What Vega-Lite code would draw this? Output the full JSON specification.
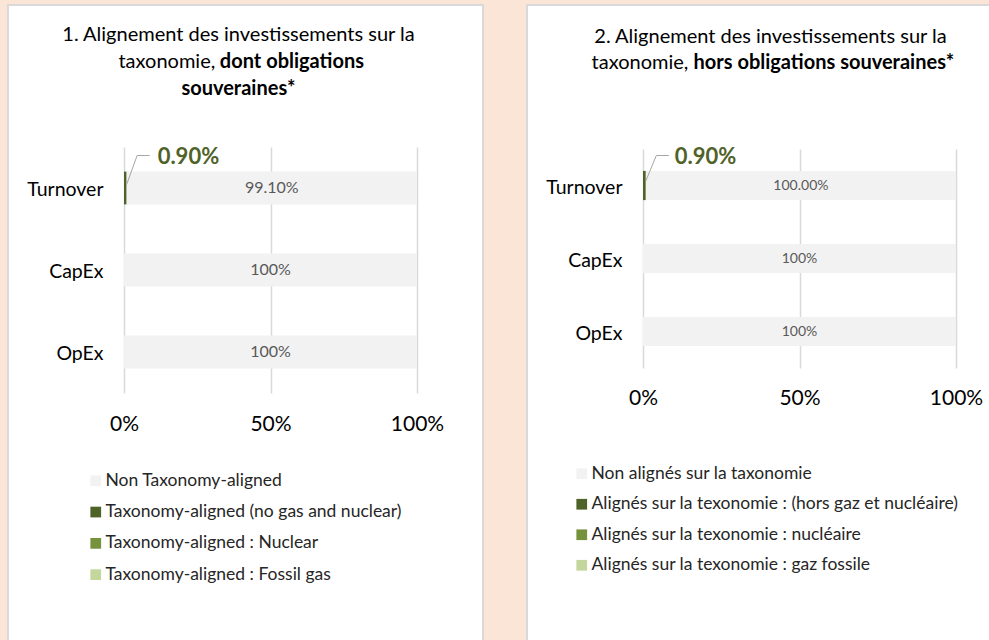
{
  "$schema": "https://vega.github.io/schema/vega-lite/v6.json",
  "background": "#FBE5D6",
  "padding": {"left": 7, "top": 4, "right": 0, "bottom": 0},
  "autosize": {"type": "pad"},
  "spacing": 42,
  "resolve": {"scale": {"color": "independent"}, "legend": {"color": "independent"}},
  "config": {
    "font": "Lato",
    "title": {"font": "Lato", "fontSize": 20, "fontWeight": "normal", "color": "#000000", "subtitleFont": "Lato", "subtitleFontSize": 20, "subtitleFontWeight": "bold", "subtitleColor": "#000000", "anchor": "middle", "frame": "group"}
  },
  "hconcat": [
    {
      "width": 475,
      "height": 640,
      "view": {"fill": "#FFFFFF", "stroke": "#D9D9D9", "strokeWidth": 2},
      "title": {
        "text": ["1. Alignement des investissements sur la", "taxonomie,\u00a0\u00a0\u00a0\u00a0\u00a0\u00a0\u00a0\u00a0\u00a0\u00a0\u00a0\u00a0\u00a0\u00a0\u00a0\u00a0\u00a0\u00a0\u00a0\u00a0\u00a0\u00a0\u00a0\u00a0\u00a0\u00a0\u00a0\u00a0\u200b"],
        "subtitle": ["\u200b\u00a0\u00a0\u00a0\u00a0\u00a0\u00a0\u00a0\u00a0\u00a0\u00a0\u00a0\u00a0\u00a0\u00a0\u00a0\u00a0\u00a0\u00a0\u00a0\u00a0\u00a0\u00a0dont obligations", "souveraines*"],
        "lineHeight": 27,
        "subtitleLineHeight": 27,
        "subtitlePadding": -20,
        "offset": -94,
        "dx": -7
      },
      "data": {"values": [
        {"cat": "Turnover", "type": "Taxonomy-aligned (no gas and nuclear)", "v": 0.009, "o": 1, "nl": "", "cl": "0.90%"},
        {"cat": "Turnover", "type": "Non Taxonomy-aligned", "v": 0.991, "o": 2, "nl": "99.10%", "cl": ""},
        {"cat": "CapEx", "type": "Non Taxonomy-aligned", "v": 1.0, "o": 2, "nl": "100%", "cl": ""},
        {"cat": "OpEx", "type": "Non Taxonomy-aligned", "v": 1.0, "o": 2, "nl": "100%", "cl": ""}
      ]},
      "encoding": {
        "y": {"field": "cat", "type": "nominal", "sort": ["Turnover", "CapEx", "OpEx"],
          "scale": {"range": [142, 388], "paddingInner": 0.6, "paddingOuter": 0.3},
          "axis": {"orient": "left", "offset": -95, "labelPadding": 0, "ticks": false, "domain": false, "grid": false, "title": null, "labelFont": "Lato", "labelFontSize": 19.5, "labelColor": "#000000", "labelAlign": "right", "labelBaseline": "middle", "labelOffset": 2}}
      },
      "layer": [
        {
          "mark": {"type": "bar"},
          "encoding": {
            "x": {"field": "v", "type": "quantitative", "stack": "zero",
              "scale": {"domain": [0, 1], "range": [116, 409], "nice": false, "zero": true},
              "axis": {"orient": "top", "offset": -419, "values": [0, 0.5, 1], "format": ".0%", "grid": true, "gridColor": "#D9D9D9", "gridWidth": 1.5, "ticks": false, "tickSize": 0, "domain": false, "labelPadding": 0, "labelBaseline": "middle", "labelFont": "Lato", "labelFontSize": 21, "labelColor": "#000000", "labelFlush": false, "title": null, "zindex": 0}},
            "order": {"field": "o", "type": "quantitative"},
            "color": {"field": "type", "type": "nominal",
              "scale": {"domain": ["Non Taxonomy-aligned", "Taxonomy-aligned (no gas and nuclear)", "Taxonomy-aligned : Nuclear", "Taxonomy-aligned : Fossil gas"], "range": ["#F2F2F2", "#4F6228", "#76923C", "#C3D69B"]},
              "legend": {"orient": "none", "legendX": 79, "legendY": 467, "title": null, "direction": "vertical", "symbolType": "square", "symbolSize": 115, "symbolStrokeWidth": 0, "labelFont": "Lato", "labelFontSize": 17.5, "labelColor": "#262626", "labelOffset": 1, "rowPadding": 12.3, "padding": 0, "labelLimit": 0}}
          }
        },
        {
          "transform": [{"filter": "datum.cl != ''"}],
          "mark": {"type": "rule", "color": "#A6A6A6", "strokeWidth": 1, "xOffset": 0, "yOffset": -3.5, "x2Offset": 10.5, "y2Offset": -32.5},
          "encoding": {
            "x": {"field": "v", "type": "quantitative", "stack": null, "scale": {"domain": [0, 1], "range": [116, 409], "nice": false, "zero": true},
              "axis": {"orient": "top", "offset": -419, "values": [0, 0.5, 1], "format": ".0%", "grid": true, "gridColor": "#D9D9D9", "gridWidth": 1.5, "ticks": false, "tickSize": 0, "domain": false, "labelPadding": 0, "labelBaseline": "middle", "labelFont": "Lato", "labelFontSize": 21, "labelColor": "#000000", "labelFlush": false, "title": null, "zindex": 0}},
            "x2": {"field": "v"},
            "y2": {"field": "cat"}
          }
        },
        {
          "transform": [{"filter": "datum.cl != ''"}],
          "mark": {"type": "rule", "color": "#A6A6A6", "strokeWidth": 1, "xOffset": 10.5, "yOffset": -32.5, "x2Offset": 23, "y2Offset": -32.5},
          "encoding": {
            "x": {"field": "v", "type": "quantitative", "stack": null, "scale": {"domain": [0, 1], "range": [116, 409], "nice": false, "zero": true},
              "axis": {"orient": "top", "offset": -419, "values": [0, 0.5, 1], "format": ".0%", "grid": true, "gridColor": "#D9D9D9", "gridWidth": 1.5, "ticks": false, "tickSize": 0, "domain": false, "labelPadding": 0, "labelBaseline": "middle", "labelFont": "Lato", "labelFontSize": 21, "labelColor": "#000000", "labelFlush": false, "title": null, "zindex": 0}},
            "x2": {"field": "v"},
            "y2": {"field": "cat"}
          }
        },
        {
          "transform": [{"filter": "datum.cl != ''"}],
          "mark": {"type": "text", "align": "left", "baseline": "middle", "dx": 31, "dy": -31.5, "font": "Lato", "fontSize": 22, "fontWeight": "bold", "color": "#4F6228"},
          "encoding": {
            "x": {"field": "v", "type": "quantitative", "stack": null, "scale": {"domain": [0, 1], "range": [116, 409], "nice": false, "zero": true},
              "axis": {"orient": "top", "offset": -419, "values": [0, 0.5, 1], "format": ".0%", "grid": true, "gridColor": "#D9D9D9", "gridWidth": 1.5, "ticks": false, "tickSize": 0, "domain": false, "labelPadding": 0, "labelBaseline": "middle", "labelFont": "Lato", "labelFontSize": 21, "labelColor": "#000000", "labelFlush": false, "title": null, "zindex": 0}},
            "text": {"field": "cl"}
          }
        },
        {
          "mark": {"type": "text", "align": "center", "baseline": "middle", "font": "Lato", "fontSize": 16, "color": "#595959"},
          "encoding": {
            "x": {"field": "v", "type": "quantitative", "stack": "zero", "bandPosition": 0.5, "scale": {"domain": [0, 1], "range": [116, 409], "nice": false, "zero": true},
              "axis": {"orient": "top", "offset": -419, "values": [0, 0.5, 1], "format": ".0%", "grid": true, "gridColor": "#D9D9D9", "gridWidth": 1.5, "ticks": false, "tickSize": 0, "domain": false, "labelPadding": 0, "labelBaseline": "middle", "labelFont": "Lato", "labelFontSize": 21, "labelColor": "#000000", "labelFlush": false, "title": null, "zindex": 0}},
            "order": {"field": "o", "type": "quantitative"},
            "detail": {"field": "type"},
            "text": {"field": "nl"}
          }
        }
      ]
    },
    {
      "width": 470,
      "height": 640,
      "view": {"fill": "#FFFFFF", "stroke": "#D9D9D9", "strokeWidth": 2},
      "title": {
        "text": ["2. Alignement des investissements sur la", "taxonomie,\u00a0\u00a0\u00a0\u00a0\u00a0\u00a0\u00a0\u00a0\u00a0\u00a0\u00a0\u00a0\u00a0\u00a0\u00a0\u00a0\u00a0\u00a0\u00a0\u00a0\u00a0\u00a0\u00a0\u00a0\u00a0\u00a0\u00a0\u00a0\u00a0\u00a0\u00a0\u00a0\u00a0\u00a0\u00a0\u00a0\u00a0\u00a0\u00a0\u00a0\u00a0\u00a0\u00a0\u00a0\u00a0\u00a0\u00a0\u00a0\u00a0\u00a0\u00a0\u200b"],
        "subtitle": ["\u200b\u00a0\u00a0\u00a0\u00a0\u00a0\u00a0\u00a0\u00a0\u00a0\u00a0\u00a0\u00a0\u00a0\u00a0\u00a0\u00a0\u00a0\u00a0\u00a0\u00a0\u00a0\u00a0hors obligations souveraines*"],
        "lineHeight": 26,
        "subtitleLineHeight": 26,
        "subtitlePadding": -20,
        "offset": -68,
        "dx": 8.5
      },
      "data": {"values": [
        {"cat": "Turnover", "type": "Alignés sur la texonomie : (hors gaz et nucléaire)", "v": 0.009, "o": 1, "nl": "", "cl": "0.90%"},
        {"cat": "Turnover", "type": "Non alignés sur la taxonomie", "v": 0.991, "o": 2, "nl": "100.00%", "cl": ""},
        {"cat": "CapEx", "type": "Non alignés sur la taxonomie", "v": 1.0, "o": 2, "nl": "100%", "cl": ""},
        {"cat": "OpEx", "type": "Non alignés sur la taxonomie", "v": 1.0, "o": 2, "nl": "100%", "cl": ""}
      ]},
      "encoding": {
        "y": {"field": "cat", "type": "nominal", "sort": ["Turnover", "CapEx", "OpEx"],
          "scale": {"range": [144, 363], "paddingInner": 0.6, "paddingOuter": 0.3},
          "axis": {"orient": "left", "offset": -95, "labelPadding": 0, "ticks": false, "domain": false, "grid": false, "title": null, "labelFont": "Lato", "labelFontSize": 19.5, "labelColor": "#000000", "labelAlign": "right", "labelBaseline": "middle", "labelOffset": 2}}
      },
      "layer": [
        {
          "mark": {"type": "bar"},
          "encoding": {
            "x": {"field": "v", "type": "quantitative", "stack": "zero",
              "scale": {"domain": [0, 1], "range": [116, 429], "nice": false, "zero": true},
              "axis": {"orient": "top", "offset": -393, "values": [0, 0.5, 1], "format": ".0%", "grid": true, "gridColor": "#D9D9D9", "gridWidth": 1.5, "ticks": false, "tickSize": 0, "domain": false, "labelPadding": 0, "labelBaseline": "middle", "labelFont": "Lato", "labelFontSize": 21, "labelColor": "#000000", "labelFlush": false, "title": null, "zindex": 0}},
            "order": {"field": "o", "type": "quantitative"},
            "color": {"field": "type", "type": "nominal",
              "scale": {"domain": ["Non alignés sur la taxonomie", "Alignés sur la texonomie : (hors gaz et nucléaire)", "Alignés sur la texonomie : nucléaire", "Alignés sur la texonomie : gaz fossile"], "range": ["#F2F2F2", "#4F6228", "#76923C", "#C3D69B"]},
              "legend": {"orient": "none", "legendX": 46, "legendY": 460, "title": null, "direction": "vertical", "symbolType": "square", "symbolSize": 115, "symbolStrokeWidth": 0, "labelFont": "Lato", "labelFontSize": 17.5, "labelColor": "#262626", "labelOffset": 1, "rowPadding": 11.5, "padding": 0, "labelLimit": 0}}
          }
        },
        {
          "transform": [{"filter": "datum.cl != ''"}],
          "mark": {"type": "rule", "color": "#A6A6A6", "strokeWidth": 1, "xOffset": 0, "yOffset": -4.5, "x2Offset": 10.5, "y2Offset": -30},
          "encoding": {
            "x": {"field": "v", "type": "quantitative", "stack": null, "scale": {"domain": [0, 1], "range": [116, 429], "nice": false, "zero": true},
              "axis": {"orient": "top", "offset": -393, "values": [0, 0.5, 1], "format": ".0%", "grid": true, "gridColor": "#D9D9D9", "gridWidth": 1.5, "ticks": false, "tickSize": 0, "domain": false, "labelPadding": 0, "labelBaseline": "middle", "labelFont": "Lato", "labelFontSize": 21, "labelColor": "#000000", "labelFlush": false, "title": null, "zindex": 0}},
            "x2": {"field": "v"},
            "y2": {"field": "cat"}
          }
        },
        {
          "transform": [{"filter": "datum.cl != ''"}],
          "mark": {"type": "rule", "color": "#A6A6A6", "strokeWidth": 1, "xOffset": 10.5, "yOffset": -30, "x2Offset": 23, "y2Offset": -30},
          "encoding": {
            "x": {"field": "v", "type": "quantitative", "stack": null, "scale": {"domain": [0, 1], "range": [116, 429], "nice": false, "zero": true},
              "axis": {"orient": "top", "offset": -393, "values": [0, 0.5, 1], "format": ".0%", "grid": true, "gridColor": "#D9D9D9", "gridWidth": 1.5, "ticks": false, "tickSize": 0, "domain": false, "labelPadding": 0, "labelBaseline": "middle", "labelFont": "Lato", "labelFontSize": 21, "labelColor": "#000000", "labelFlush": false, "title": null, "zindex": 0}},
            "x2": {"field": "v"},
            "y2": {"field": "cat"}
          }
        },
        {
          "transform": [{"filter": "datum.cl != ''"}],
          "mark": {"type": "text", "align": "left", "baseline": "middle", "dx": 29, "dy": -29, "font": "Lato", "fontSize": 22, "fontWeight": "bold", "color": "#4F6228"},
          "encoding": {
            "x": {"field": "v", "type": "quantitative", "stack": null, "scale": {"domain": [0, 1], "range": [116, 429], "nice": false, "zero": true},
              "axis": {"orient": "top", "offset": -393, "values": [0, 0.5, 1], "format": ".0%", "grid": true, "gridColor": "#D9D9D9", "gridWidth": 1.5, "ticks": false, "tickSize": 0, "domain": false, "labelPadding": 0, "labelBaseline": "middle", "labelFont": "Lato", "labelFontSize": 21, "labelColor": "#000000", "labelFlush": false, "title": null, "zindex": 0}},
            "text": {"field": "cl"}
          }
        },
        {
          "mark": {"type": "text", "align": "center", "baseline": "middle", "font": "Lato", "fontSize": 14, "color": "#595959"},
          "encoding": {
            "x": {"field": "v", "type": "quantitative", "stack": "zero", "bandPosition": 0.5, "scale": {"domain": [0, 1], "range": [116, 429], "nice": false, "zero": true},
              "axis": {"orient": "top", "offset": -393, "values": [0, 0.5, 1], "format": ".0%", "grid": true, "gridColor": "#D9D9D9", "gridWidth": 1.5, "ticks": false, "tickSize": 0, "domain": false, "labelPadding": 0, "labelBaseline": "middle", "labelFont": "Lato", "labelFontSize": 21, "labelColor": "#000000", "labelFlush": false, "title": null, "zindex": 0}},
            "order": {"field": "o", "type": "quantitative"},
            "detail": {"field": "type"},
            "text": {"field": "nl"}
          }
        }
      ]
    }
  ]
}
